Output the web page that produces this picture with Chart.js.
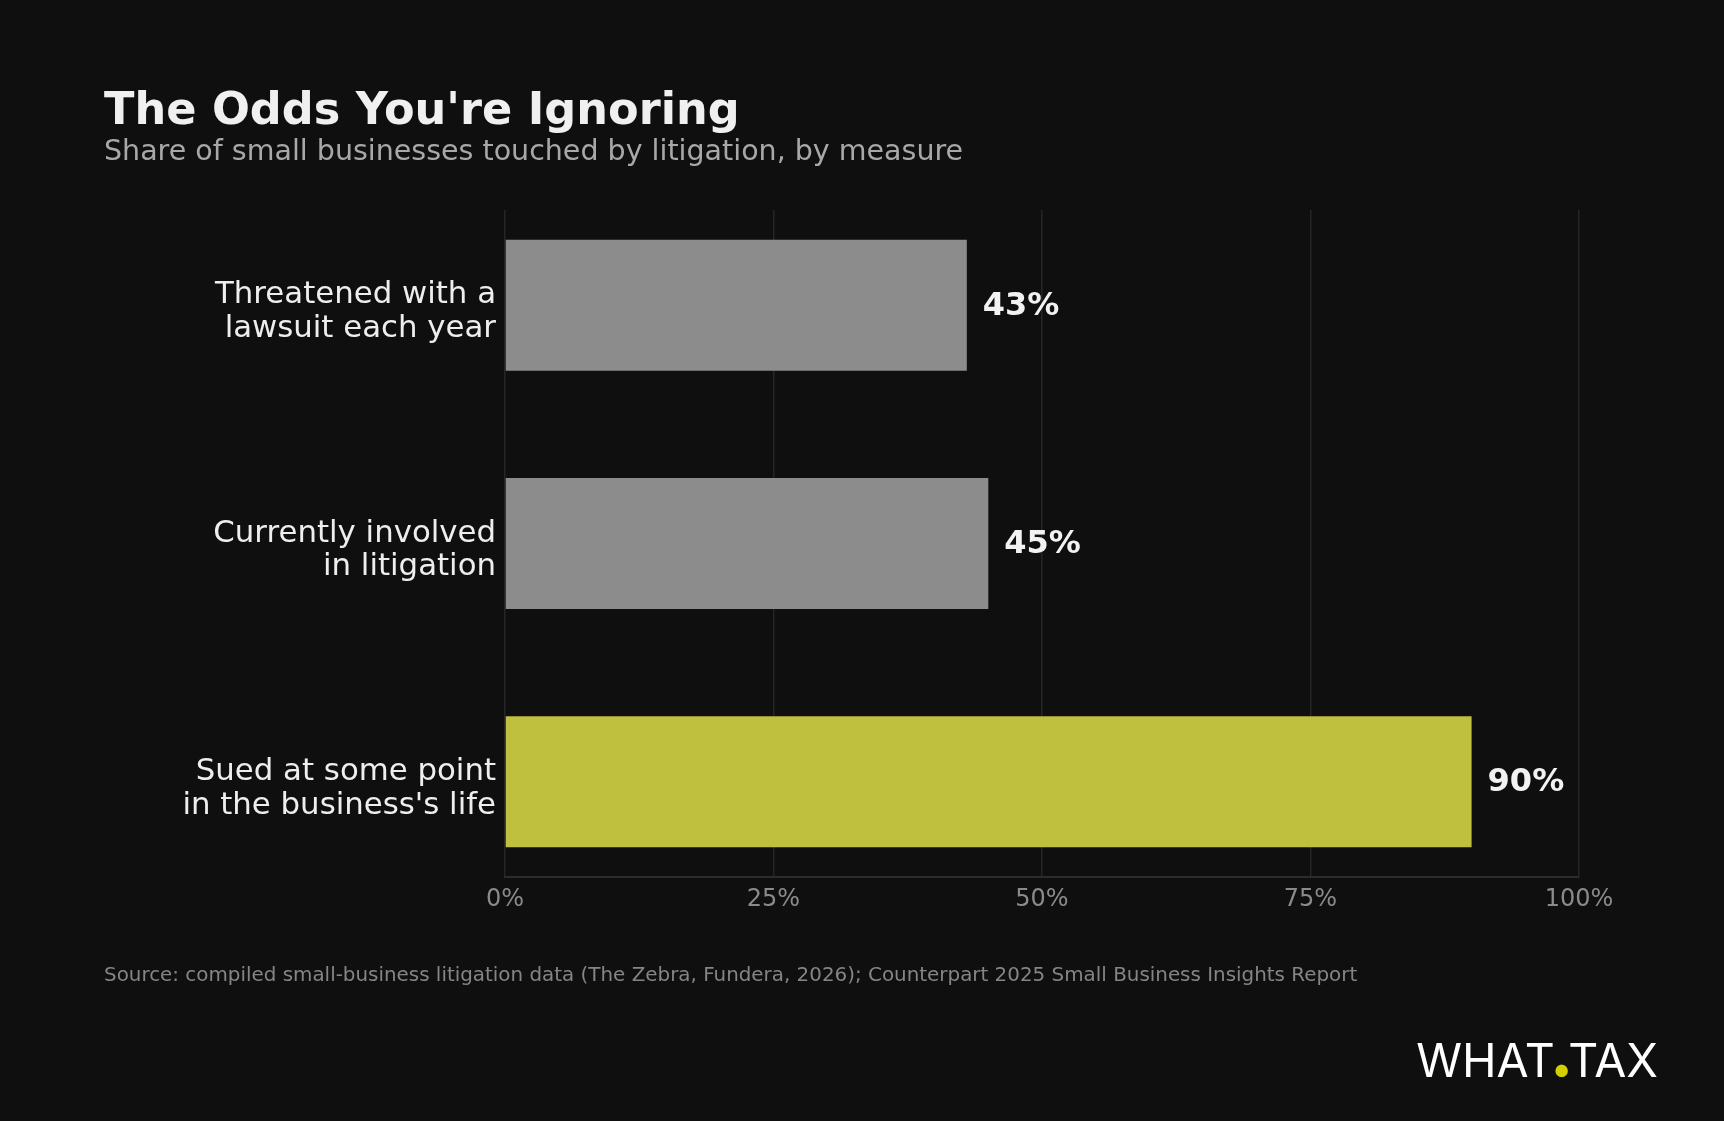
<!DOCTYPE html>
<html>
<head>
<meta charset="utf-8">
<script src="https://cdn.jsdelivr.net/npm/chart.js@4"></script>
<style>
    html, body { margin: 0; padding: 0; background: #0f0f0f; }
    #page { position: relative; width: 1724px; height: 1121px; background: #0f0f0f; overflow: hidden; }
    #chartBox { position: absolute; left: 0; top: 0; width: 1724px; height: 1121px; }
    .txt { position: absolute; white-space: nowrap; font-family: "DejaVu Sans", sans-serif; }
    #title { left: 104px; top: 87px; font-size: 44.6px; line-height: 44px; font-weight: bold; color: #f0f0f0; }
    #subtitle { left: 104px; top: 137px; font-size: 28.5px; line-height: 28px; color: #a8a8a8; }
    #source { left: 104px; top: 965px; font-size: 19.9px; line-height: 19px; color: #858585; }
    #logo { right: 66px; top: 1037px; font-family: Inter, sans-serif; font-size: 46.5px; line-height: 47px; font-weight: 400; color: #ffffff; }
    #logo span { color: #d4d000; display: inline-block; transform: scale(2); transform-origin: 50% 87%; }
</style>
</head>
<body>
<div id="page">
    <div id="chartBox"><canvas id="oddsChart"></canvas></div>
    <div class="txt" id="title">The Odds You're Ignoring</div>
    <div class="txt" id="subtitle">Share of small businesses touched by litigation, by measure</div>
    <div class="txt" id="source">Source: compiled small-business litigation data (The Zebra, Fundera, 2026); Counterpart 2025 Small Business Insights Report</div>
    <div class="txt" id="logo">WHAT<span>.</span>TAX</div>
</div>
<script>
// data
const categories = [
    ['Threatened with a', 'lawsuit each year'],
    ['Currently involved', 'in litigation'],
    ['Sued at some point', "in the business's life"]
];
const values = [43, 45, 90];
const xTicks = [0, 25, 50, 75, 100];

const GRAY = '#8c8c8c';
const HIGHLIGHT = '#bfc03d';

Chart.defaults.font.family = '"DejaVu Sans", sans-serif';

// percentage labels at the end of each bar
const valueLabels = {
    id: 'valueLabels',
    afterDatasetsDraw(chart) {
        const ctx = chart.ctx;
        const meta = chart.getDatasetMeta(0);
        ctx.save();
        ctx.font = 'bold 32px "DejaVu Sans"';
        ctx.fillStyle = '#f2f2f2';
        ctx.textAlign = 'left';
        ctx.textBaseline = 'middle';
        meta.data.forEach((bar, i) => {
            ctx.fillText(values[i] + '%', bar.x + 16, bar.y + 1);
        });
        ctx.restore();
    }
};

const maxValue = Math.max(...values);

new Chart(document.getElementById('oddsChart'), {
    type: 'bar',
    data: {
        datasets: [{
            data: values.map((v, i) => ({ x: v, y: i })),
            backgroundColor: ctx => ctx.raw && ctx.raw.x === maxValue ? HIGHLIGHT : GRAY,
            borderWidth: 0,
            barPercentage: 0.55,
            categoryPercentage: 1
        }]
    },
    options: {
        indexAxis: 'y',
        responsive: true,
        maintainAspectRatio: false,
        animation: false,
        layout: {
            padding: { top: 210, right: 145, bottom: 204, left: 0 }
        },
        plugins: {
            legend: { display: false },
            tooltip: { enabled: false }
        },
        scales: {
            x: {
                type: 'linear',
                min: 0,
                max: 100,
                offset: false,
                afterBuildTicks: axis => { axis.ticks = xTicks.map(v => ({ value: v })); },
                afterFit: axis => { axis.height = 40; },
                grid: { color: '#262626', lineWidth: 1.5, drawTicks: false, offset: false },
                border: { color: '#2c2c2c', width: 2 },
                ticks: {
                    color: '#8a8a8a',
                    font: { size: 24 },
                    padding: 8,
                    callback: v => v + '%'
                }
            },
            y: {
                type: 'linear',
                min: -0.4,
                max: 2.4,
                reverse: true,
                offset: false,
                afterBuildTicks: axis => { axis.ticks = categories.map((c, i) => ({ value: i })); },
                afterFit: axis => { axis.width = 505; },
                grid: { display: false, drawTicks: false, offset: false },
                border: { display: false },
                ticks: {
                    color: '#eeeeee',
                    font: { size: 30.8, lineHeight: 1.1 },
                    padding: 9,
                    labelOffset: 7,
                    callback: v => categories[v]
                }
            }
        }
    },
    plugins: [valueLabels]
});
</script>
</body>
</html>
